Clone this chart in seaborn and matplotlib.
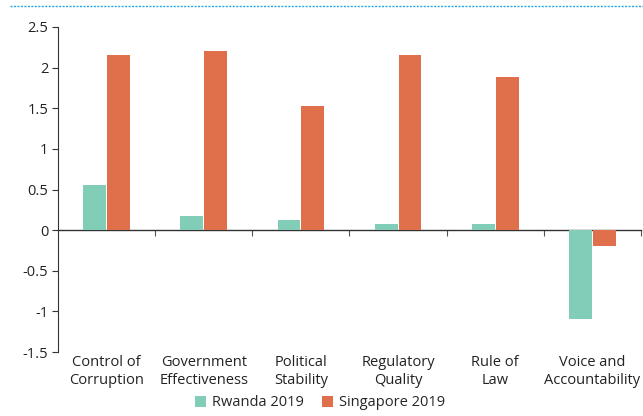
import matplotlib
matplotlib.use("Agg")
import matplotlib.pyplot as plt
import seaborn as sns
import pandas as pd
import numpy as np
from matplotlib.patches import Patch
from matplotlib.lines import Line2D

categories = ["Control of\nCorruption", "Government\nEffectiveness", "Political\nStability",
              "Regulatory\nQuality", "Rule of\nLaw", "Voice and\nAccountability"]
rwanda_2019 = [0.55, 0.18, 0.12, 0.07, 0.07, -1.09]
singapore_2019 = [2.15, 2.21, 1.53, 2.15, 1.88, -0.19]
series_names = ["Rwanda 2019", "Singapore 2019"]
y_ticks = [2.5, 2, 1.5, 1, 0.5, 0, -0.5, -1, -1.5]
y_tick_labels = ["2.5", "2", "1.5", "1", "0.5", "0", "-0.5", "-1", "-1.5"]

colors = ["#82cdb8", "#e0704c"]

df = pd.DataFrame({
    "category": categories * 2,
    "series": [series_names[0]] * len(categories) + [series_names[1]] * len(categories),
    "value": rwanda_2019 + singapore_2019,
})

sns.set_style("white")
plt.rcParams["font.family"] = ["Open Sans", "DejaVu Sans"]

fig = plt.figure(figsize=(6.43, 4.16), dpi=100)
ax = fig.add_axes([58 / 643, 1 - 352 / 416, (641 - 58) / 643, (352 - 27) / 416])

sns.barplot(data=df, x="category", y="value", hue="series", palette=colors,
            width=0.49, gap=0.04, saturation=1, ax=ax, legend=False)
for p in ax.patches:
    p.set_edgecolor("none")

ax.set_xlim(-0.5, len(categories) - 0.5)
ax.set_ylim(-1.5, 2.5)
ax.set_yticks(y_ticks)
ax.set_yticklabels(y_tick_labels, fontsize=10.5, color="#222222")
ax.tick_params(axis="y", direction="out", length=4, width=0.8, color="#333333", pad=3, left=True)
ax.set_xticks(range(len(categories)))
ax.set_xticklabels(categories, fontsize=10.5, color="#222222", linespacing=1.25)
ax.tick_params(axis="x", length=0, pad=2)
ax.set_xlabel("")
ax.set_ylabel("")

for s in ["top", "right", "bottom"]:
    ax.spines[s].set_visible(False)
ax.spines["left"].set_color("#333333")
ax.spines["left"].set_linewidth(0.8)

# zero line with category boundary ticks
zero_axis = ax.secondary_xaxis(0, transform=ax.transData)
zero_axis.set_xticks(np.arange(0.5, len(categories), 1.0))
zero_axis.set_xticklabels([])
zero_axis.tick_params(length=4, width=0.8, color="#555555")
zero_axis.spines["bottom"].set_color("#333333")
zero_axis.spines["bottom"].set_linewidth(1.0)

# dotted rule along the top edge
fig.add_artist(Line2D([10 / 643, 1.0], [1 - 6 / 416, 1 - 6 / 416], transform=fig.transFigure,
                      color="#29a8e0", linestyle=(0, (1.5, 1)), linewidth=1.0))

handles = [Patch(facecolor=c, edgecolor="none") for c in colors]
fig.legend(handles, series_names, loc="center", bbox_to_anchor=(320 / 643, 1 - 403 / 416),
           ncol=2, frameon=False, fontsize=10.5, handlelength=0.8, handleheight=0.8,
           handletextpad=0.4, columnspacing=1.2, borderaxespad=0)

fig.savefig("out.png", dpi=100)
